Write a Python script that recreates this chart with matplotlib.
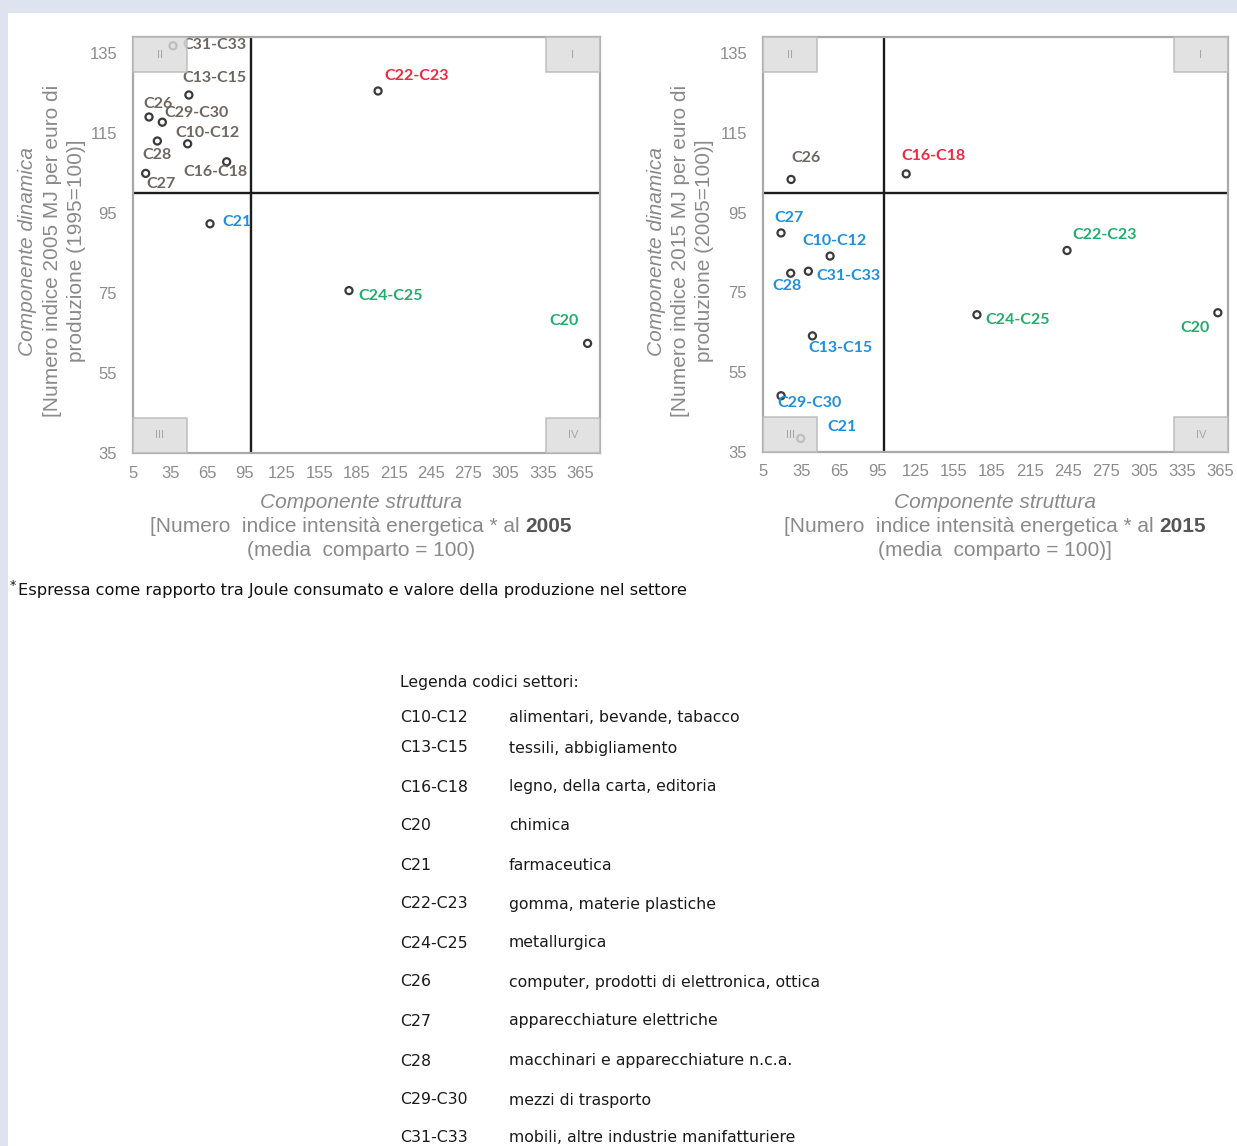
import matplotlib
matplotlib.use("Agg")
import matplotlib.pyplot as plt
from matplotlib.patches import Rectangle

# ---------------- data ----------------
sectors = ["C10-C12", "C13-C15", "C16-C18", "C20", "C21", "C22-C23",
           "C24-C25", "C26", "C27", "C28", "C29-C30", "C31-C33"]
descriptions = ["alimentari, bevande, tabacco", "tessili, abbigliamento",
                "legno, della carta, editoria", "chimica", "farmaceutica",
                "gomma, materie plastiche", "metallurgica",
                "computer, prodotti di elettronica, ottica",
                "apparecchiature elettriche", "macchinari e apparecchiature n.c.a.",
                "mezzi di trasporto", "mobili, altre industrie manifatturiere"]

struct_2005 = [49.0, 50.0, 80.4, 371.0, 67.0, 202.3, 178.9, 17.9, 15.2, 24.6, 28.6, 37.2]
dyn_2005 = [112.3, 124.5, 107.8, 62.4, 92.3, 125.5, 75.6, 119.0, 104.9, 113.0, 117.7, 136.8]
struct_2015 = [57.8, 43.9, 117.7, 363.0, 34.7, 244.3, 173.4, 27.1, 19.2, 26.8, 19.2, 40.7]
dyn_2015 = [84.1, 64.1, 104.7, 69.9, 38.4, 85.5, 69.4, 103.3, 89.9, 79.8, 49.1, 80.3]

x_ticks = [5, 35, 65, 95, 125, 155, 185, 215, 245, 275, 305, 335, 365]
y_ticks = [35, 55, 75, 95, 115, 135]
quadrant_names = ["I", "II", "III", "IV"]
reference_value = 100

# ---------------- style ----------------
W, H = 1237, 1146
fig = plt.figure(figsize=(W / 100, H / 100), dpi=100)
fig.patch.set_facecolor("#dde4ef")
fig.patches.append(Rectangle((8 / W, 0), 1 - 8 / W, 1 - 13 / H, transform=fig.transFigure,
                             facecolor="white", edgecolor="none", zorder=-5))

FONT = "Liberation Sans"
LBLFONT = "Lato"
TICKC = "#8c8c8c"
quad_colors = {"I": "#f0283c", "II": "#6e6660", "III": "#1f8fde", "IV": "#22ad6c"}

# label offsets in pixels (dx, dy-up, ha)
off_left = {
    "C10-C12": (20, 11, "center"), "C13-C15": (26, 17, "center"),
    "C16-C18": (-11, -10, "center"), "C20": (-24, 22, "center"),
    "C21": (12, 2, "left"), "C22-C23": (39, 15, "center"),
    "C24-C25": (9, -5, "left"), "C26": (9, 13, "center"),
    "C27": (15, -11, "center"), "C28": (0, -14, "center"),
    "C29-C30": (34, 9, "center"), "C31-C33": (9, 1, "left"),
}
off_right = {
    "C10-C12": (4, 15, "center"), "C13-C15": (28, -12, "center"),
    "C16-C18": (27, 18, "center"), "C20": (-23, -15, "center"),
    "C21": (41, 11, "center"), "C22-C23": (38, 15, "center"),
    "C24-C25": (8, -5, "left"), "C26": (15, 21, "center"),
    "C27": (8, 15, "center"), "C28": (-4, -13, "center"),
    "C29-C30": (28, -7, "center"), "C31-C33": (8, -5, "left"),
}


def quadrant(x, y):
    if x >= reference_value and y >= reference_value:
        return "I"
    if x < reference_value and y >= reference_value:
        return "II"
    if x < reference_value:
        return "III"
    return "IV"


def make_axes(left_px, right_px, top_px, bottom_px, xmax, xs, ys, offsets):
    ax = fig.add_axes([left_px / W, 1 - bottom_px / H, (right_px - left_px) / W,
                       (bottom_px - top_px) / H])
    ax.set_xlim(5, xmax)
    ax.set_ylim(35, 139)
    ax.set_xticks(x_ticks)
    ax.set_yticks(y_ticks)
    ax.tick_params(length=0, labelsize=12, labelcolor=TICKC)
    ax.tick_params(axis="x", pad=9)
    ax.tick_params(axis="y", pad=11.5)
    for lab in ax.get_xticklabels() + ax.get_yticklabels():
        lab.set_fontfamily(FONT)
    for sp in ax.spines.values():
        sp.set_color("#a9a9a9")
        sp.set_linewidth(1.6)
    ax.axvline(reference_value, color="#1c1c1c", lw=1.7, zorder=2)
    ax.axhline(reference_value, color="#1c1c1c", lw=1.7, zorder=2)
    ax.scatter(xs, ys, s=26, facecolors="none", edgecolors="#3a3a3a",
               linewidths=1.6, zorder=3)
    for name, x, y in zip(sectors, xs, ys):
        dx, dy, ha = offsets[name]
        ax.annotate(name, (x, y), xytext=(dx, dy), textcoords="offset pixels",
                    ha=ha, va="center", fontsize=11.5, fontweight="bold",
                    family=LBLFONT, color=quad_colors[quadrant(x, y)], zorder=4)
    # quadrant corner boxes
    bw, bh = 54 / (right_px - left_px), 35 / (bottom_px - top_px)
    corners = {"I": (1 - bw, 1 - bh), "II": (0, 1 - bh), "III": (0, 0), "IV": (1 - bw, 0)}
    for q in quadrant_names:
        x0, y0 = corners[q]
        ax.add_patch(Rectangle((x0, y0), bw, bh, transform=ax.transAxes,
                               facecolor="#dcdcdc", edgecolor="#b8b8b8", lw=1.2,
                               alpha=0.82, zorder=5, clip_on=False))
        ax.text(x0 + bw / 2, y0 + bh / 2, q, transform=ax.transAxes, ha="center",
                va="center", fontsize=8, color="#a6a6a6", family=FONT, zorder=6)
    return ax


ax1 = make_axes(133, 600, 37, 453, 381, struct_2005, dyn_2005, off_left)
ax2 = make_axes(763, 1228, 37, 452, 371, struct_2015, dyn_2015, off_right)

renderer = fig.canvas.get_renderer()
LABC = "#8a8a8a"


def ftext(xpx, ypx, s, **kw):
    return fig.text(xpx / W, 1 - ypx / H, s, family=FONT, **kw)


def mixed_line(xc, ypx, normal, bold, size=15):
    t1 = ftext(0, ypx, normal, ha="left", va="center", fontsize=size, color=LABC)
    t2 = ftext(0, ypx, bold, ha="left", va="center", fontsize=size, color="#555555",
               fontweight="bold")
    w1 = t1.get_window_extent(renderer).width
    w2 = t2.get_window_extent(renderer).width
    gap = 5
    x0 = xc - (w1 + gap + w2) / 2
    t1.set_x(x0 / W)
    t2.set_x((x0 + w1 + gap) / W)


for xc, year, close in [(361, "2005", ""), (995, "2015", "]")]:
    ftext(xc, 503, "Componente struttura", ha="center", va="center", fontsize=15,
          color=LABC, style="italic")
    mixed_line(xc, 527, "[Numero  indice intensità energetica * al", year)
    ftext(xc, 551, "(media  comparto = 100)" + close, ha="center", va="center",
          fontsize=15, color=LABC)

for xs_, base, ref in [((28, 53, 77), "2005", "1995"), ((656, 681, 705), "2015", "2005")]:
    ftext(xs_[0], 251, "Componente dinamica", ha="center", va="center", fontsize=15,
          color=LABC, style="italic", rotation=90)
    ftext(xs_[1], 251, "[Numero indice %s MJ per euro di" % base, ha="center",
          va="center", fontsize=15, color=LABC, rotation=90)
    ftext(xs_[2], 251, "produzione (%s=100)]" % ref, ha="center", va="center",
          fontsize=15, color=LABC, rotation=90)

# footnote
fig.text(10 / W, 1 - 586 / H, "*", family="DejaVu Sans", fontsize=9, color="#111111",
         ha="left", va="center")
fig.text(18 / W, 1 - 591 / H,
         "Espressa come rapporto tra Joule consumato e valore della produzione nel settore",
         family="DejaVu Sans", fontsize=11.7, color="#111111", ha="left", va="center")

# legend of sector codes
LEGF = 11.3
fig.text(400 / W, 1 - 683 / H, "Legenda codici settori:", family="DejaVu Sans",
         fontsize=LEGF, color="#1a1a1a", ha="left", va="center")
row_y = [717, 748, 787, 826, 865, 904, 943, 982, 1021, 1061, 1100, 1138]
for code, desc, yy in zip(sectors, descriptions, row_y):
    fig.text(400 / W, 1 - yy / H, code, family="DejaVu Sans", fontsize=LEGF,
             color="#1a1a1a", ha="left", va="center")
    fig.text(509 / W, 1 - yy / H, desc, family="DejaVu Sans", fontsize=LEGF,
             color="#1a1a1a", ha="left", va="center")

fig.savefig("out.png", dpi=100, facecolor=fig.get_facecolor())
